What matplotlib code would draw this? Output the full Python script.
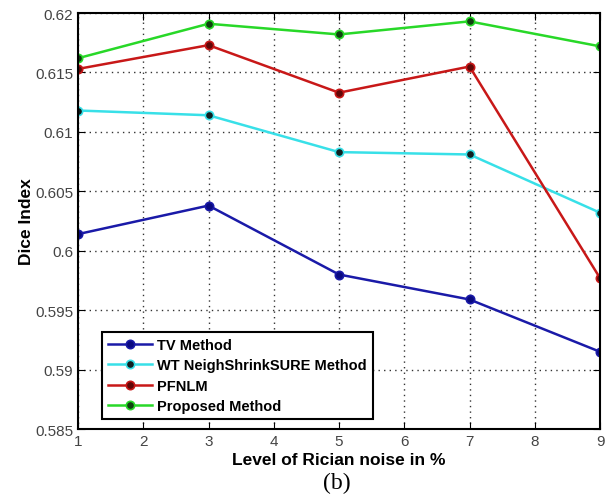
import matplotlib
matplotlib.use('Agg')
import matplotlib.pyplot as plt

plt.rcParams['font.family'] = ['Liberation Sans', 'DejaVu Sans']

noise = [1, 3, 5, 7, 9]
tv = [0.6014, 0.6038, 0.5980, 0.5959, 0.5915]
wt = [0.6118, 0.6114, 0.6083, 0.6081, 0.6032]
pfnlm = [0.6153, 0.6173, 0.6133, 0.6155, 0.5977]
proposed = [0.6162, 0.6191, 0.6182, 0.6193, 0.6172]
labels = ['TV Method', 'WT NeighShrinkSURE Method', 'PFNLM', 'Proposed Method']

fig = plt.figure(figsize=(6.11, 5.02), dpi=100)
ax = fig.add_axes([0.1277, 0.1434, 0.8543, 0.8286])

series = [(tv, '#1a1aa8', '#0a0a80'),
          (wt, '#38e0e8', '#102020'),
          (pfnlm, '#c81818', '#600808'),
          (proposed, '#28d828', '#104010')]
for (vals, col, face), lab in zip(series, labels):
    ax.plot(noise, vals, '-o', color=col, lw=1.8, ms=6, mfc=face, mec=col, mew=1.2, label=lab)

ax.set_xlim(1, 9)
ax.set_ylim(0.585, 0.62)
ax.set_yticks([0.585, 0.59, 0.595, 0.6, 0.605, 0.61, 0.615, 0.62])
ax.set_yticklabels(['0.585', '0.59', '0.595', '0.6', '0.605', '0.61', '0.615', '0.62'])
ax.grid(True, linestyle=(0, (1, 3)), color='#333333', lw=1.0)
ax.tick_params(direction='in', top=True, right=True, labelsize=11, labelcolor='#444444', length=5)
for s in ax.spines.values():
    s.set_linewidth(1.5)

ax.set_xlabel('Level of Rician noise in %', fontsize=12.5, fontweight='bold', labelpad=3)
ax.set_ylabel('Dice Index', fontsize=12.5, fontweight='bold', labelpad=1)

leg = ax.legend(loc='lower left', bbox_to_anchor=(0.032, 0.006), prop={'weight': 'bold', 'size': 10.5},
                fancybox=False, edgecolor='black', framealpha=1, handlelength=3, labelspacing=0.45,
                borderpad=0.4, handletextpad=0.4)
leg.get_frame().set_linewidth(1.5)

fig.text(0.551, 0.025, '(b)', fontsize=17, family='Liberation Serif', ha='center')

fig.savefig('out.png', dpi=100)
